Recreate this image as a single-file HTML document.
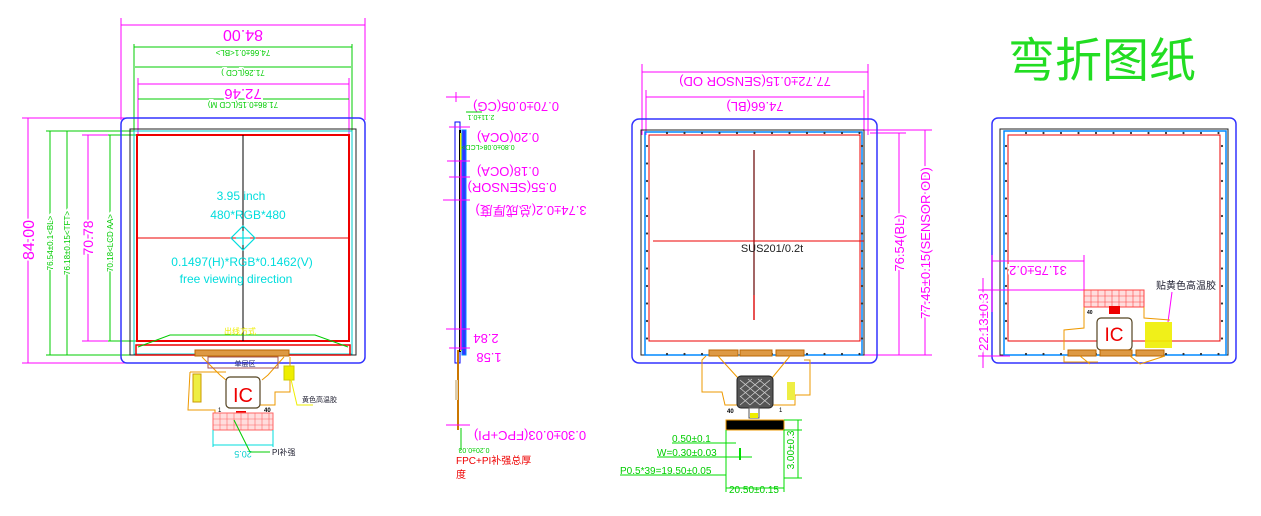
<!DOCTYPE html>
<html><head><meta charset="utf-8"><style>
html,body{margin:0;padding:0;background:#fff;width:1261px;height:516px;overflow:hidden}
svg{display:block}
text{font-family:"Liberation Sans","Noto Sans CJK SC",sans-serif}
</style></head><body>
<svg width="1261" height="516" viewBox="0 0 1261 516" xmlns="http://www.w3.org/2000/svg">
<rect width="1261" height="516" fill="#fff"/>

<!-- ============ VIEW 1 ============ -->
<!-- top dims -->
<g fill="none" stroke-width="1">
<line x1="121" y1="18" x2="121" y2="120" stroke="#f0f"/>
<line x1="365" y1="18" x2="365" y2="120" stroke="#f0f"/>
<line x1="121" y1="25" x2="365" y2="25" stroke="#f0f"/>
<line x1="134" y1="44" x2="134" y2="135" stroke="#0c0"/>
<line x1="352" y1="44" x2="352" y2="135" stroke="#0c0"/>
<line x1="134" y1="47" x2="352" y2="47" stroke="#0c0"/>
<line x1="135" y1="67" x2="351" y2="67" stroke="#0c0"/>
<line x1="138" y1="78" x2="138" y2="135" stroke="#f0f"/>
<line x1="349" y1="78" x2="349" y2="135" stroke="#f0f"/>
<line x1="138" y1="84" x2="349" y2="84" stroke="#f0f"/>
<line x1="138" y1="99" x2="349" y2="99" stroke="#0c0"/>
</g>
<g text-anchor="middle">
<text transform="translate(243,25) rotate(180)" dy="-5" font-size="16" fill="#f0f" stroke="#fff" stroke-width="4" paint-order="stroke">84.00</text>
<text transform="translate(243,47) rotate(180)" dy="-3" font-size="8" fill="#0c0" stroke="#fff" stroke-width="3" paint-order="stroke">74.66±0.1&lt;BL&gt;</text>
<text transform="translate(243,67) rotate(180)" dy="-3" font-size="8" fill="#0c0" stroke="#fff" stroke-width="3" paint-order="stroke">71.26(LCD )</text>
<text transform="translate(243,84) rotate(180)" dy="-5" font-size="15" fill="#f0f" stroke="#fff" stroke-width="4" paint-order="stroke">72.46</text>
<text transform="translate(243,99) rotate(180)" dy="-3" font-size="8" fill="#0c0" stroke="#fff" stroke-width="3" paint-order="stroke">71.86±0.15(LCD M)</text>
</g>
<!-- left dims -->
<g fill="none">
<line x1="22" y1="118" x2="145" y2="118" stroke="#f0f"/>
<line x1="22" y1="363" x2="145" y2="363" stroke="#f0f"/>
<line x1="28" y1="118" x2="28" y2="363" stroke="#f0f"/>
<line x1="46" y1="131" x2="135" y2="131" stroke="#0c0"/>
<line x1="46" y1="355" x2="135" y2="355" stroke="#0c0"/>
<line x1="50" y1="131" x2="50" y2="355" stroke="#0c0"/>
<line x1="67" y1="131" x2="67" y2="355" stroke="#0c0"/>
<line x1="82" y1="135" x2="138" y2="135" stroke="#f0f"/>
<line x1="82" y1="341" x2="138" y2="341" stroke="#f0f"/>
<line x1="88" y1="135" x2="88" y2="341" stroke="#f0f"/>
<line x1="108" y1="135" x2="138" y2="135" stroke="#0c0"/>
<line x1="108" y1="341" x2="138" y2="341" stroke="#0c0"/>
<line x1="110" y1="135" x2="110" y2="341" stroke="#0c0"/>
</g>
<g text-anchor="middle">
<text transform="translate(28,240) rotate(-90)" dy="6" font-size="16" fill="#f0f" stroke="#fff" stroke-width="4" paint-order="stroke">84.00</text>
<text transform="translate(50,243) rotate(-90)" dy="3" font-size="8" fill="#0c0" stroke="#fff" stroke-width="3" paint-order="stroke">76.54±0.1&lt;BL&gt;</text>
<text transform="translate(67,243) rotate(-90)" dy="3" font-size="8" fill="#0c0" stroke="#fff" stroke-width="3" paint-order="stroke">76.18±0.15&lt;TFT&gt;</text>
<text transform="translate(88,238) rotate(-90)" dy="5" font-size="14" fill="#f0f" stroke="#fff" stroke-width="4" paint-order="stroke">70.78</text>
<text transform="translate(110,243) rotate(-90)" dy="3" font-size="8" fill="#0c0" stroke="#fff" stroke-width="3" paint-order="stroke">70.18&lt;LCD AA&gt;</text>
</g>
<!-- panel -->
<rect x="121" y="118" width="244" height="245" rx="6" fill="none" stroke="#33f" stroke-width="1.5"/>
<rect x="130" y="129" width="226" height="226" fill="none" stroke="#222" stroke-width="1"/>
<rect x="134" y="131" width="218" height="223" fill="none" stroke="#0cc" stroke-width="1"/>
<rect x="137" y="135" width="212" height="206" fill="none" stroke="#e00" stroke-width="2"/>
<rect x="136" y="345" width="214" height="10" fill="none" stroke="#e00" stroke-width="1.5"/>
<line x1="243" y1="135" x2="243" y2="341" stroke="#000"/>
<line x1="137" y1="238" x2="349" y2="238" stroke="#e00"/>
<polyline points="138,347 170,335 315,335 348,347" fill="none" stroke="#0c0"/>
<text x="240" y="334" font-size="8" fill="#ee0" text-anchor="middle">出线方式</text>
<g fill="#0dd" text-anchor="middle">
<text x="241" y="200" font-size="12">3.95 inch</text>
<text x="248" y="219" font-size="12">480*RGB*480</text>
<text x="242" y="266" font-size="12">0.1497(H)*RGB*0.1462(V)</text>
<text x="236" y="283" font-size="12">free viewing direction</text>
</g>
<g fill="none" stroke="#0dd" stroke-width="1.2">
<polygon points="243,226 255,238 243,250 231,238"/>
<line x1="236" y1="238" x2="250" y2="238"/><line x1="243" y1="231" x2="243" y2="245"/>
</g>
<!-- FPC view1 -->
<g fill="none" stroke="#e90">
<rect x="195" y="350" width="94" height="6" fill="#d94" stroke="#b60"/>
<path d="M202,357 L220,375 L226,380 M284,357 L268,375 L262,380"/>
<rect x="208" y="357" width="70" height="11" stroke="#a55"/>
<path d="M190,372 L226,372 M190,372 L188,410 L215,410 L215,413 M260,405 L275,405 L275,392 L290,392 L290,357"/>
</g>
<text x="245" y="366" font-size="7" fill="#226" text-anchor="middle">单层区</text>
<rect x="193" y="374" width="8" height="28" fill="#ee4" stroke="#c90"/>
<rect x="284" y="366" width="10" height="14" fill="#ee0" stroke="#cc0"/>
<rect x="226" y="377" width="34" height="31" rx="4" fill="#fff" stroke="#542" stroke-width="1.2"/>
<text x="243" y="402" font-size="20" fill="#e00" text-anchor="middle">IC</text>
<text x="218" y="412" font-size="6" fill="#000">1</text>
<text x="264" y="412" font-size="6" fill="#000" font-weight="bold">40</text>
<rect x="236" y="411" width="10" height="8" fill="#e00"/>
<rect x="213" y="413" width="60" height="17" fill="#fdd" stroke="#f66"/>
<g stroke="#f66" stroke-width="0.6">
<line x1="213" y1="419" x2="273" y2="419"/><line x1="213" y1="425" x2="273" y2="425"/>
<line x1="220" y1="413" x2="220" y2="430"/><line x1="227" y1="413" x2="227" y2="430"/><line x1="234" y1="413" x2="234" y2="430"/><line x1="241" y1="413" x2="241" y2="430"/><line x1="248" y1="413" x2="248" y2="430"/><line x1="255" y1="413" x2="255" y2="430"/><line x1="262" y1="413" x2="262" y2="430"/><line x1="269" y1="413" x2="269" y2="430"/>
</g>
<line x1="213" y1="430" x2="213" y2="447" stroke="#0dd"/><line x1="273" y1="430" x2="273" y2="447" stroke="#0dd"/>
<line x1="213" y1="445" x2="273" y2="445" stroke="#0dd"/>
<text transform="translate(243,451) rotate(180)" font-size="9" fill="#0cc" text-anchor="middle">20.5</text>
<polyline points="234,420 250,452 270,452" fill="none" stroke="#0c0"/>
<text x="272" y="455" font-size="8" fill="#223">PI补强</text>
<polyline points="290,375 297,405 313,405" fill="none" stroke="#ee0"/>
<text x="302" y="402" font-size="7" fill="#223">黄色高温胶</text>

<!-- ============ VIEW 2 (side) ============ -->
<rect x="455" y="122" width="5" height="241" fill="none" stroke="#00f"/>
<rect x="459" y="130" width="2" height="222" fill="#000"/>
<rect x="460" y="133" width="1.5" height="218" fill="#ee0"/>
<rect x="462" y="130" width="4" height="225" fill="#33f" stroke="#08f"/>
<line x1="461" y1="160" x2="461" y2="350" stroke="#f0f" stroke-width="1.5"/>
<line x1="458" y1="350" x2="458" y2="430" stroke="#c70" stroke-width="2"/>
<rect x="455" y="380" width="3" height="20" fill="#dca"/>
<line x1="461" y1="428" x2="461" y2="450" stroke="#0c0"/>
<g stroke="#f0f">
<line x1="446" y1="97" x2="470" y2="97"/><line x1="449" y1="127" x2="470" y2="127"/>
<line x1="447" y1="161" x2="470" y2="161"/><line x1="449" y1="177" x2="470" y2="177"/>
<line x1="443" y1="200" x2="470" y2="200"/><line x1="446" y1="329" x2="470" y2="329"/>
<line x1="449" y1="348" x2="470" y2="348"/><line x1="446" y1="425" x2="470" y2="425"/>
<line x1="456" y1="92" x2="456" y2="102"/>
</g>
<g fill="#f0f" font-size="13" text-anchor="middle">
<text transform="translate(516,97) rotate(180)" dy="-5">0.70±0.05(CG)</text>
<text transform="translate(508,128) rotate(180)" dy="-5">0.20(OCA)</text>
<text transform="translate(508,162) rotate(180)" dy="-5">0.18(OCA)</text>
<text transform="translate(512,178) rotate(180)" dy="-5">0.55(SENSOR)</text>
<text transform="translate(531,201) rotate(180)" dy="-5">3.74±0.2(总成厚度)</text>
<text transform="translate(486,329) rotate(180)" dy="-5">2.84</text>
<text transform="translate(489,348) rotate(180)" dy="-5">1.58</text>
<text transform="translate(530,426) rotate(180)" dy="-5">0.30±0.03(FPC+PI)</text>
</g>
<g fill="#0c0" font-size="7" text-anchor="middle">
<line x1="466" y1="112" x2="482" y2="112" stroke="#0c0"/>
<text transform="translate(481,113) rotate(180)" dy="-2">2.11±0.1</text>
<text transform="translate(488,143) rotate(180)" dy="-2">0.80±0.08&lt;LCD&gt;</text>
<text transform="translate(474,446) rotate(180)" dy="-2">0.20±0.03</text>
</g>
<text x="456" y="464" font-size="10" fill="#e00">FPC+PI补强总厚</text>
<text x="456" y="478" font-size="10" fill="#e00">度</text>

<!-- ============ VIEW 3 ============ -->
<g fill="none" stroke="#f0f">
<line x1="642" y1="64" x2="642" y2="135"/><line x1="868" y1="64" x2="868" y2="135"/>
<line x1="642" y1="72" x2="868" y2="72"/>
<line x1="646" y1="90" x2="646" y2="135"/><line x1="864" y1="90" x2="864" y2="135"/>
<line x1="646" y1="97" x2="864" y2="97"/>
<line x1="860" y1="130" x2="932" y2="130"/><line x1="860" y1="355" x2="932" y2="355"/>
<line x1="870" y1="133" x2="906" y2="133"/>
<line x1="899" y1="133" x2="899" y2="355"/><line x1="925" y1="130" x2="925" y2="355"/>
</g>
<g fill="#f0f" font-size="13" text-anchor="middle">
<text transform="translate(755,72) rotate(180)" dy="-5" stroke="#fff" stroke-width="4" paint-order="stroke">77.72±0.15(SENSOR OD)</text>
<text transform="translate(755,97) rotate(180)" dy="-5" stroke="#fff" stroke-width="4" paint-order="stroke">74.66(BL)</text>
<text transform="translate(899,243) rotate(-90)" dy="5" stroke="#fff" stroke-width="4" paint-order="stroke">76.54(BL)</text>
<text transform="translate(925,243) rotate(-90)" dy="5" stroke="#fff" stroke-width="4" paint-order="stroke">77.45±0.15(SENSOR OD)</text>
</g>
<rect x="632" y="119" width="245" height="244" rx="7" fill="none" stroke="#33f" stroke-width="1.5"/>
<rect x="641" y="130" width="223" height="225" fill="none" stroke="#222"/>
<rect x="645" y="132" width="217" height="223" fill="none" stroke="#08f" stroke-width="1.5"/>
<rect x="649" y="135" width="211" height="206" fill="none" stroke="#e00"/>
<g stroke="#333" stroke-width="2.2" stroke-linecap="round" stroke-dasharray="0 17.5">
<line x1="667" y1="133" x2="862" y2="133"/><line x1="667" y1="354" x2="862" y2="354"/>
<line x1="647" y1="146" x2="647" y2="345"/><line x1="862" y1="146" x2="862" y2="345"/>
</g>
<line x1="754" y1="150" x2="754" y2="320" stroke="#600" stroke-width="1.2"/>
<line x1="754" y1="295" x2="754" y2="320" stroke="#e00" stroke-width="1.2"/>
<line x1="653" y1="241" x2="864" y2="241" stroke="#e00"/>
<text x="772" y="252" font-size="11" fill="#222" text-anchor="middle">SUS201/0.2t</text>
<!-- FPC view3 -->
<g fill="#d94" stroke="#b60">
<rect x="709" y="350" width="29" height="6"/><rect x="740" y="350" width="32" height="6"/><rect x="776" y="350" width="28" height="6"/>
</g>
<path d="M706,356 L702,360 L702,392 L722,392 L725,405 L795,405 L795,395 L810,395 L810,360 L804,360 M718,356 L738,378 M790,356 L772,378" fill="none" stroke="#e90"/>
<rect x="737" y="376" width="36" height="32" rx="4" fill="#555" stroke="#222"/>
<g stroke="#fff" stroke-width="0.8" opacity="0.7">
<path d="M740,380 L770,405 M740,388 L760,405 M740,396 L750,405 M748,379 L770,397 M758,379 L770,389 M770,380 L740,405 M770,388 L750,405 M770,396 L760,405 M762,379 L740,397 M752,379 L740,389"/>
</g>
<rect x="787" y="382" width="8" height="18" fill="#ee4"/>
<text x="727" y="413" font-size="6" fill="#000" font-weight="bold">40</text>
<text x="779" y="412" font-size="6" fill="#000">1</text>
<rect x="749" y="408" width="10" height="10" fill="#fff" stroke="#555"/>
<rect x="750" y="413" width="8" height="5" fill="#ee0"/>
<rect x="726" y="420" width="58" height="10" fill="#000" stroke="#e90"/>
<g stroke="#0d0" fill="none">
<line x1="726" y1="430" x2="726" y2="492"/><line x1="784" y1="430" x2="784" y2="492"/>
<line x1="726" y1="488" x2="784" y2="488"/>
<line x1="784" y1="420" x2="802" y2="420"/><line x1="784" y1="430" x2="802" y2="430"/><line x1="784" y1="478" x2="802" y2="478"/>
<line x1="798" y1="420" x2="798" y2="478"/>
<line x1="672" y1="443" x2="736" y2="443"/><line x1="657" y1="457" x2="752" y2="457"/>
<line x1="740" y1="448" x2="740" y2="460" stroke-width="2"/>
<line x1="620" y1="475" x2="726" y2="475"/>
</g>
<g fill="#0c0" font-size="10">
<text x="672" y="442">0.50±0.1</text>
<text x="657" y="456">W=0.30±0.03</text>
<text x="620" y="474">P0.5*39=19.50±0.05</text>
<text x="729" y="493">20.50±0.15</text>
<text transform="translate(794,450) rotate(-90)" text-anchor="middle">3.00±0.3</text>
</g>

<!-- ============ VIEW 4 ============ -->
<text x="1008" y="77" font-size="47" fill="#2d2" font-family="'Noto Serif CJK SC','Noto Sans CJK SC',serif">弯折图纸</text>
<rect x="992" y="118" width="244" height="245" rx="6" fill="none" stroke="#33f" stroke-width="1.5"/>
<rect x="1000" y="129" width="228" height="226" fill="none" stroke="#222"/>
<rect x="1004" y="131" width="222" height="224" fill="none" stroke="#08f" stroke-width="1.5"/>
<rect x="1008" y="135" width="212" height="206" fill="none" stroke="#e00"/>
<g stroke="#333" stroke-width="2.2" stroke-linecap="round" stroke-dasharray="0 17.5">
<line x1="1026" y1="133" x2="1225" y2="133"/><line x1="1026" y1="354" x2="1225" y2="354"/>
<line x1="1006" y1="146" x2="1006" y2="345"/><line x1="1222" y1="146" x2="1222" y2="345"/>
</g>
<g stroke="#f0f" fill="none">
<line x1="992" y1="255" x2="992" y2="312"/><line x1="1084" y1="255" x2="1084" y2="292"/>
<line x1="992" y1="261" x2="1084" y2="261"/>
<line x1="978" y1="290" x2="1090" y2="290"/><line x1="978" y1="356" x2="1010" y2="356"/>
<line x1="983" y1="278" x2="983" y2="368"/>
<line x1="1172" y1="292" x2="1168" y2="322"/>
</g>
<text transform="translate(1038,261) rotate(180)" dy="-5" font-size="13" fill="#f0f" text-anchor="middle" stroke="#fff" stroke-width="4" paint-order="stroke">31.75±0.2</text>
<text transform="translate(983,322) rotate(-90)" dy="5" font-size="13" fill="#f0f" text-anchor="middle" stroke="#fff" stroke-width="4" paint-order="stroke">22.13±0.3</text>
<text x="1156" y="289" font-size="10" fill="#223">贴黄色高温胶</text>
<rect x="1084" y="290" width="60" height="17" fill="#fdd" stroke="#f44"/>
<g stroke="#f44" stroke-width="0.6">
<line x1="1084" y1="296" x2="1144" y2="296"/><line x1="1084" y1="302" x2="1144" y2="302"/>
<line x1="1091" y1="290" x2="1091" y2="307"/><line x1="1098" y1="290" x2="1098" y2="307"/><line x1="1105" y1="290" x2="1105" y2="307"/><line x1="1112" y1="290" x2="1112" y2="307"/><line x1="1119" y1="290" x2="1119" y2="307"/><line x1="1126" y1="290" x2="1126" y2="307"/><line x1="1133" y1="290" x2="1133" y2="307"/><line x1="1140" y1="290" x2="1140" y2="307"/>
</g>
<rect x="1109" y="306" width="11" height="8" fill="#e00"/>
<text x="1087" y="314" font-size="5" fill="#000" font-weight="bold">40</text>
<path d="M1084,307 L1084,328 L1064,330 L1064,350 M1144,307 L1144,318 L1170,320" fill="none" stroke="#e90"/>
<rect x="1097" y="318" width="35" height="32" rx="4" fill="#fff" stroke="#542" stroke-width="1.2"/>
<text x="1114" y="341" font-size="19" fill="#e00" text-anchor="middle">IC</text>
<rect x="1145" y="322" width="27" height="26" fill="#ee0" opacity="0.9"/>
<g fill="#d94" stroke="#b60">
<rect x="1068" y="350" width="28" height="6"/><rect x="1100" y="350" width="32" height="6"/><rect x="1136" y="350" width="28" height="6"/>
</g>
<path d="M1064,356 L1064,362 L1098,362 M1080,356 L1090,364 M1130,356 L1140,364 L1165,356" fill="none" stroke="#e90"/>
</svg>
</body></html>
